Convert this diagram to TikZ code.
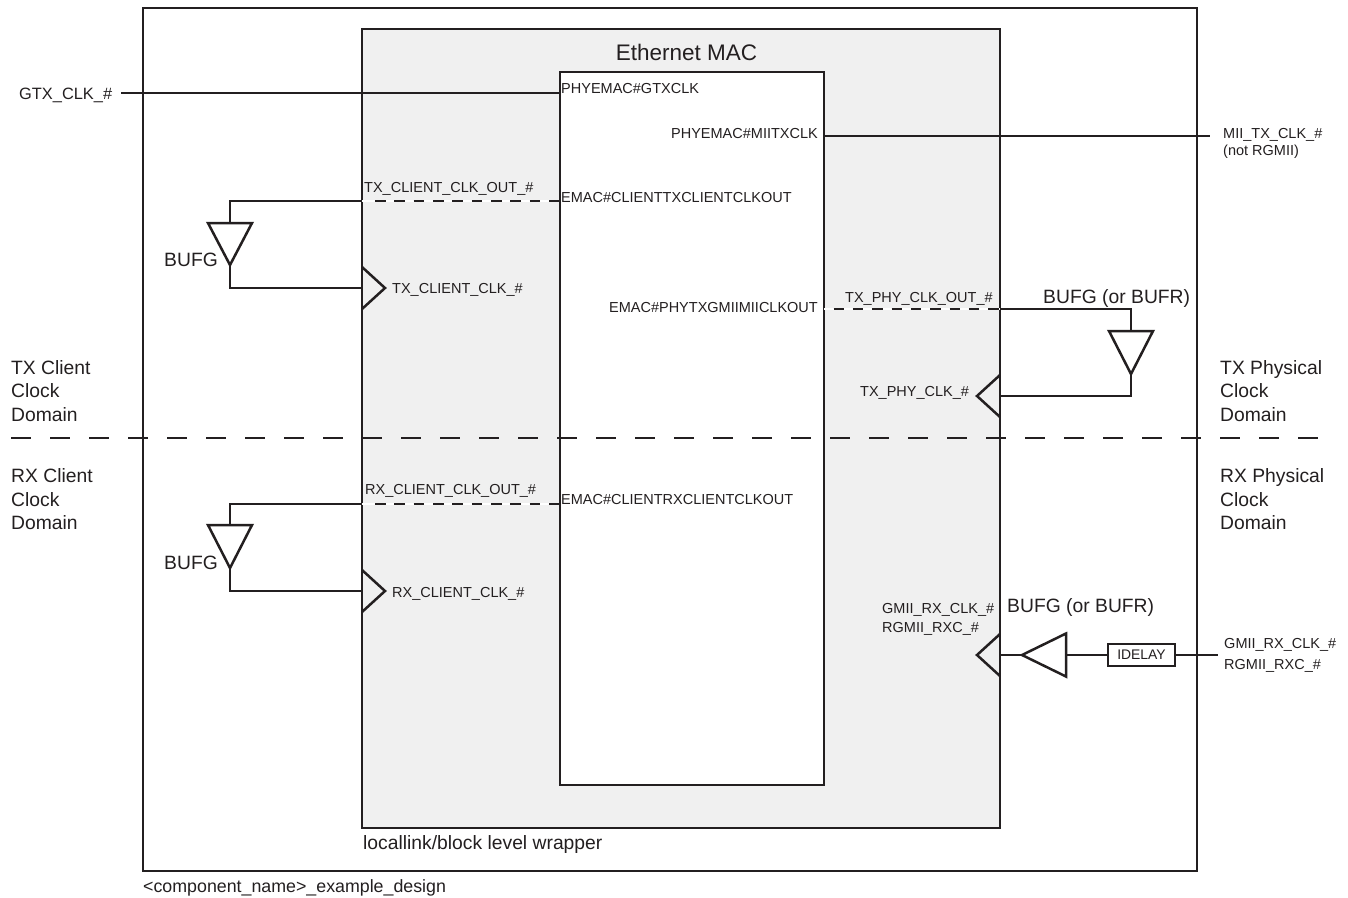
\documentclass[tikz,border=0pt]{standalone}
\usepackage{fontspec}
\setmainfont{Liberation Sans}
\definecolor{ink}{HTML}{231F20}
\definecolor{panel}{HTML}{F0F0F0}
\tikzset{
  wire/.style={draw=ink,line width=2.5pt,line join=miter},
  dashwire/.style={draw=ink,line width=2.5pt,dash pattern=on 10.5pt off 8.85pt},
  dashback/.style={draw=white,line width=1.6pt},
  domainline/.style={draw=ink,line width=2.5pt,dash pattern=on 20pt off 19pt},
  boxx/.style={draw=ink,line width=2.5pt,inner sep=0pt,outer sep=0pt,anchor=north west},
  lab/.style={anchor=base west,inner sep=0pt,text=ink,font=\fontsize{14.5}{17}\selectfont},
  labr/.style={anchor=base east,inner sep=0pt,text=ink,font=\fontsize{14.5}{17}\selectfont},
  mid/.style={anchor=base west,inner sep=0pt,text=ink,font=\fontsize{19.3}{23}\selectfont},
  wrap/.style={anchor=base west,inner sep=0pt,text=ink,font=\fontsize{17.8}{21}\selectfont},
  dom/.style={anchor=north west,inner sep=0pt,text=ink,align=left,font=\fontsize{19.3}{23.6}\selectfont},
}
\begin{document}
\begin{tikzpicture}[x=1pt,y=-1pt]
\useasboundingbox (0,0) rectangle (1348,897);
% boxes
\node[boxx,minimum width=1054pt,minimum height=863pt] (outer) at (143,8) {};
\node[boxx,fill=panel,minimum width=638pt,minimum height=799pt] (wrapper) at (362,29) {};
\node[boxx,fill=white,minimum width=264pt,minimum height=713pt] (core) at (560,72) {};
\node[boxx,fill=white,minimum width=67pt,minimum height=22pt,font=\fontsize{13.9}{16}\selectfont,text=ink] (idelay) at (1108,644) {IDELAY};

% free ends and buffer points
\coordinate (gtxin) at (121,93);
\coordinate (gtxcore) at (560,93);
\coordinate (miicore) at (824,136);
\coordinate (miiout) at (1210,136);
\coordinate (txcw) at (362,201);
\coordinate (txcs) at (375,201);
\coordinate (txcc) at (560,201);
\coordinate (txcb) at (230,201);
\coordinate (t1top) at (230,223);
\coordinate (t1tip) at (230,265);
\coordinate (t1bot) at (230,288);
\coordinate (t1ck) at (362,288);
\coordinate (rxcw) at (362,504);
\coordinate (rxcs) at (375,504);
\coordinate (rxcc) at (560,504);
\coordinate (rxcb) at (230,504);
\coordinate (t2top) at (230,525);
\coordinate (t2tip) at (230,568);
\coordinate (t2bot) at (230,591);
\coordinate (t2ck) at (362,591);
\coordinate (phyc) at (824,309);
\coordinate (phys) at (833.5,309);
\coordinate (phyw) at (1000,309);
\coordinate (phyb) at (1131,309);
\coordinate (t3top) at (1131,331);
\coordinate (t3tip) at (1131,374);
\coordinate (t3bot) at (1131,396);
\coordinate (t3ck) at (1000,396);
\coordinate (rxck) at (1000,655);
\coordinate (t4tip) at (1022,655);
\coordinate (t4base) at (1066,655);
\coordinate (rxin) at (1218,655);

% domain separator
\coordinate (domL) at (11,438);
\coordinate (domR) at (1320,438);
\draw[domainline] (domL) -- (domR);

% connectors
\draw[wire] (gtxin) -- (gtxcore);
\draw[wire] (miicore) -- (miiout);
\draw[wire] (txcw) -- (txcb) -- (t1top);
\draw[dashback] (txcw) -- (txcc);
\draw[dashwire] (txcs) -- (txcc);
\draw[wire] (t1tip) -- (t1bot) -- (t1ck);
\draw[wire] (rxcw) -- (rxcb) -- (t2top);
\draw[dashback] (rxcw) -- (rxcc);
\draw[dashwire] (rxcs) -- (rxcc);
\draw[wire] (t2tip) -- (t2bot) -- (t2ck);
\draw[dashback] (phyc) -- (phyw);
\draw[dashwire] (phys) -- (phyw);
\draw[wire] (phyw) -- (phyb) -- (t3top);
\draw[wire] (t3tip) -- (t3bot) -- (t3ck);
\draw[wire] (rxck) -- (t4tip);
\draw[wire] (t4base) -- (idelay.west);
\draw[wire] (idelay.east) -- (rxin);

% buffers
\draw[wire] ([xshift=-22pt]t1top) -- ([xshift=22pt]t1top) -- (t1tip) -- cycle;
\draw[wire] ([xshift=-22pt]t2top) -- ([xshift=22pt]t2top) -- (t2tip) -- cycle;
\draw[wire] ([xshift=-22pt]t3top) -- ([xshift=22pt]t3top) -- (t3tip) -- cycle;
\draw[wire] ([yshift=-21.5pt]t4base) -- ([yshift=21.5pt]t4base) -- (t4tip) -- cycle;
% clock pins
\draw[wire] ([yshift=-21pt]t1ck) -- ([xshift=23pt]t1ck) -- ([yshift=21pt]t1ck);
\draw[wire] ([yshift=-21pt]t2ck) -- ([xshift=23pt]t2ck) -- ([yshift=21pt]t2ck);
\draw[wire] ([yshift=-21pt]t3ck) -- ([xshift=-23pt]t3ck) -- ([yshift=21pt]t3ck);
\draw[wire] ([yshift=-21pt]rxck) -- ([xshift=-23pt]rxck) -- ([yshift=21pt]rxck);

% labels
\node[anchor=base,inner sep=0pt,text=ink,font=\fontsize{22.5}{26}\selectfont] (title) at (686.5,60) {Ethernet MAC};
\node[anchor=base west,inner sep=0pt,text=ink,font=\fontsize{16.4}{20}\selectfont] (gtx) at (19,99) {GTX\_CLK\_\#};
\node[lab] (l1) at (561,93) {PHYEMAC\#GTXCLK};
\node[labr] (l2) at (818,138) {PHYEMAC\#MIITXCLK};
\node[lab] (l3) at (1223,138) {MII\_TX\_CLK\_\#};
\node[lab] (l4) at (1223,155) {(not RGMII)};
\node[lab] (l5) at (364,192) {TX\_CLIENT\_CLK\_OUT\_\#};
\node[lab] (l6) at (561,202) {EMAC\#CLIENTTXCLIENTCLKOUT};
\node[mid] (b1) at (164,266) {BUFG};
\node[lab] (l7) at (392,293) {TX\_CLIENT\_CLK\_\#};
\node[labr] (l8) at (818,312) {EMAC\#PHYTXGMIIMIICLKOUT};
\node[lab] (l9) at (845,302) {TX\_PHY\_CLK\_OUT\_\#};
\node[mid] (b3) at (1043,303) {BUFG (or BUFR)};
\node[lab] (l10) at (860,396) {TX\_PHY\_CLK\_\#};
\node[dom] (d1) at (11,360) {TX Client\\Clock\\Domain};
\node[dom] (d2) at (1220,360) {TX Physical\\Clock\\Domain};
\node[dom] (d3) at (11,468.5) {RX Client\\Clock\\Domain};
\node[dom] (d4) at (1220,468.5) {RX Physical\\Clock\\Domain};
\node[lab] (l11) at (365,494) {RX\_CLIENT\_CLK\_OUT\_\#};
\node[lab] (l12) at (561,504) {EMAC\#CLIENTRXCLIENTCLKOUT};
\node[mid] (b2) at (164,569) {BUFG};
\node[lab] (l13) at (392,597) {RX\_CLIENT\_CLK\_\#};
\node[lab] (l14) at (882,613) {GMII\_RX\_CLK\_\#};
\node[lab] (l15) at (882,632) {RGMII\_RXC\_\#};
\node[mid] (b4) at (1007,612) {BUFG (or BUFR)};
\node[lab] (l16) at (1224,648) {GMII\_RX\_CLK\_\#};
\node[lab] (l17) at (1224,669) {RGMII\_RXC\_\#};
\node[anchor=base west,inner sep=0pt,text=ink,font=\fontsize{19.3}{23}\selectfont] (w1) at (363,849) {locallink/block level wrapper};
\node[wrap] (w2) at (143,892) {<component\_name>\_example\_design};
\end{tikzpicture}
\end{document}
